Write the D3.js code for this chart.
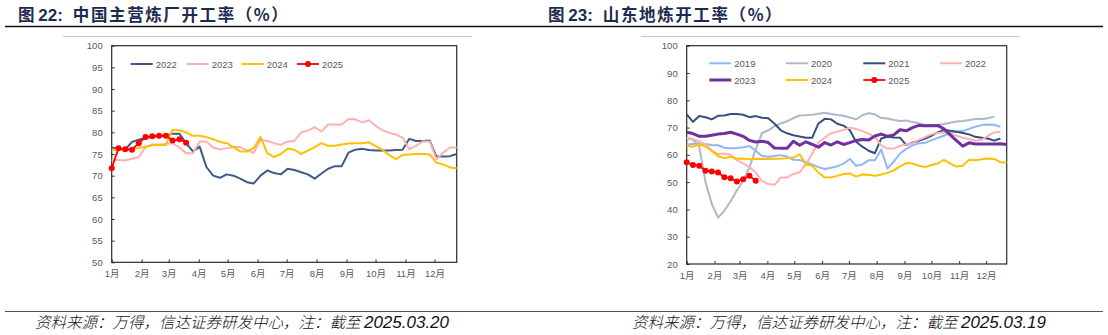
<!DOCTYPE html>
<html><head><meta charset="utf-8">
<script src="https://cdn.jsdelivr.net/npm/d3@7"></script>
<style>html,body{margin:0;padding:0;background:#fff;} svg{display:block;}</style>
</head><body><svg id="c" width="1108" height="335"></svg>
<script>
// ---------- data ----------
const months = ["1月","2月","3月","4月","5月","6月","7月","8月","9月","10月","11月","12月"];
const monthStartDays = [0,31,59,90,120,151,181,212,243,273,304,334];
const weekStep = 7; // weekly readings, days apart

// Figure 22: 中国主营炼厂开工率
const leftTicks = [50,55,60,65,70,75,80,85,90,95,100];
const leftYears = ["2022","2023","2024","2025"];
const left2022 = [76.5,76.2,76.0,77.8,78.3,78.7,79.0,79.2,79.3,79.7,79.7,77.5,75.6,76.7,72.0,70.0,69.5,70.3,70.0,69.3,68.5,68.2,70.0,71.2,70.6,70.3,71.6,71.3,70.8,70.3,69.3,70.5,71.6,72.2,72.2,75.3,76.0,76.2,75.9,75.8,75.8,75.8,75.9,76.0,78.5,78.0,78.0,78.1,74.4,74.4,74.5,75.0];
const left2023 = [73.6,73.6,73.5,73.9,74.3,76.6,77.2,77.2,77.3,77.5,76.5,75.2,75.2,77.9,77.9,76.5,76.1,76.3,76.6,76.6,75.8,75.3,78.3,78.0,77.5,77.1,77.9,78.0,80.0,80.4,81.2,80.2,81.8,81.8,81.8,83.1,83.0,82.3,82.8,81.5,80.5,79.9,79.5,78.8,76.1,76.9,77.9,77.9,73.8,75.3,76.5,76.5];
const left2024 = [76.0,76.0,76.1,76.2,76.4,76.7,77.0,77.1,77.1,80.6,80.5,80.0,79.2,79.2,78.9,78.4,77.8,77.5,76.6,75.6,75.6,76.4,78.9,75.2,74.3,75.0,76.2,76.0,75.0,75.8,76.6,77.5,76.9,76.9,77.2,77.4,77.5,77.5,77.7,76.9,76.0,74.8,73.8,74.8,74.9,75.0,75.0,74.9,73.0,72.6,71.9,71.7];
const left2025 = [71.7,76.3,76.1,76.0,77.5,78.9,79.1,79.2,79.2,78.1,78.4,77.6];

// Figure 23: 山东地炼开工率
const rightTicks = [20,30,40,50,60,70,80,90,100];
const rightYears = ["2019","2020","2021","2022","2023","2024","2025"];
const right2019 = [63.8,64.0,64.2,64.0,63.6,63.5,62.6,62.4,62.5,62.8,63.2,61.5,59.6,59.3,59.6,59.9,59.3,58.2,58.1,57.3,56.5,55.5,54.8,55.3,55.8,56.8,58.5,56.0,56.5,58.0,58.0,62.0,55.0,57.5,60.5,62.2,63.5,64.2,64.4,65.3,66.2,67.0,68.0,68.6,68.7,69.5,70.3,70.9,71.1,71.0,70.3];
const right2020 = [66.0,65.5,63.0,50.0,42.0,37.0,39.5,43.0,47.0,50.5,55.5,62.0,68.0,69.0,70.5,71.5,72.3,73.5,74.4,74.5,74.7,75.1,75.4,75.0,74.6,74.3,73.7,73.0,74.5,75.3,74.8,73.5,73.3,72.8,72.4,72.6,72.0,71.6,70.9,70.9,71.0,71.3,71.8,72.2,72.4,72.8,73.1,73.1,73.4,74.0];
const right2021 = [74.8,72.1,74.2,73.8,73.0,74.3,74.4,75.0,75.0,74.7,73.8,74.2,73.6,73.4,71.4,69.0,67.9,67.2,66.7,66.3,66.3,71.5,73.2,73.0,71.4,70.7,69.0,64.8,63.0,61.5,60.6,66.0,66.6,66.4,66.3,63.6,64.5,65.1,66.0,67.0,68.2,69.1,68.8,68.5,68.0,67.5,66.6,66.3,66.0,65.2,66.0];
const right2022 = [66.3,65.8,64.8,63.8,61.5,60.3,60.5,60.0,58.0,56.9,55.5,53.5,50.5,49.3,49.0,51.7,51.7,53.0,53.6,56.5,60.5,64.5,66.3,67.9,68.5,69.1,70.0,69.5,68.7,67.8,66.5,63.5,62.3,62.3,63.3,63.8,64.3,65.5,66.5,67.5,68.0,68.2,67.8,67.0,66.3,65.8,65.2,65.5,67.0,68.2,68.5];
const right2023 = [68.3,67.8,66.8,66.8,67.2,67.6,67.8,68.3,67.6,66.8,65.3,64.7,65.0,64.5,62.5,62.4,62.4,65.0,63.5,64.8,63.8,62.8,64.5,63.6,64.8,63.8,64.5,65.3,65.6,65.4,66.9,67.6,66.8,67.3,69.2,68.8,70.0,70.8,70.7,70.7,70.8,69.5,67.3,65.2,63.2,64.4,64.0,64.0,64.0,64.0,64.1,63.8];
const right2024 = [63.3,63.0,63.8,63.0,61.5,59.5,58.8,59.3,58.6,58.7,58.4,58.6,58.5,58.5,58.6,58.6,58.8,59.0,60.2,56.5,56.0,53.5,51.7,51.8,52.3,53.0,53.2,52.0,52.8,52.7,52.3,52.8,53.4,54.3,55.8,57.0,56.8,56.0,55.5,56.3,56.8,58.2,56.8,55.7,56.0,58.2,58.0,58.4,58.7,58.5,57.3,57.2];
const right2025 = [57.3,56.3,56.0,54.2,53.9,53.5,51.8,51.4,50.2,51.1,52.3,50.5];

const titleNums = ["图 22:", "图 23:"];
const titleTexts = ["中国主营炼厂开工率（%）", "山东地炼开工率（%）"];
const sources = ["资料来源：万得，信达证券研发中心，注：截至 ", "资料来源：万得，信达证券研发中心，注：截至 "];
const sourceDates = ["2025.03.20", "2025.03.19"];

// ---------- drawing ----------
const svg = d3.select("#c");
const FONT = "'Liberation Sans', Arial, 'Noto Sans CJK SC', sans-serif";
const CJK = "'Noto Sans CJK SC', sans-serif";

// title rule + footer rule
svg.append("line").attr("x1",5).attr("x2",1103).attr("y1",26.5).attr("y2",26.5).attr("stroke","#111").attr("stroke-width",1.5);
svg.append("line").attr("x1",5).attr("x2",1103).attr("y1",311.5).attr("y2",311.5).attr("stroke","#555").attr("stroke-width",1.2);

function drawPanel(cfg) {
  const g = svg.append("g");
  // title
  const t = g.append("text").attr("x", cfg.titleX).attr("y", 20.5).attr("font-size", 16.5)
    .attr("font-weight", "bold").attr("fill", "#1d2b4f");
  t.append("tspan").attr("font-family", FONT).attr("font-size", 17).text(cfg.titleNum.replace("图 ", ""))
    .attr("dx", 0);
  t.insert("tspan", "tspan").attr("font-family", CJK).text("图 ");
  t.append("tspan").attr("font-family", CJK).attr("dx", 10).attr("letter-spacing", 1.6).text(cfg.titleText);
  // source
  const src = g.append("text").attr("x", cfg.srcX).attr("y", 327.5).attr("font-size", 15.5).attr("font-style","italic").attr("fill","#111");
  src.append("tspan").attr("font-family", CJK).attr("font-weight", 300).text(cfg.source);
  src.append("tspan").attr("font-family", FONT).attr("font-size", 17).text(cfg.sourceDate);
  // thin gray frame top line
  g.append("line").attr("x1", cfg.grayX0).attr("x2", cfg.grayX1).attr("y1", 36.5).attr("y2", 36.5).attr("stroke", "#c8c8c8").attr("stroke-width", 1);

  const x = d3.scaleLinear().domain([0, 357]).range([cfg.x0, cfg.x1]);
  const y = d3.scaleLinear().domain(cfg.yDomain).range([cfg.yB, cfg.yT]);

  // y axis
  const ya = g.append("g").attr("transform", `translate(${cfg.x0},0)`)
    .call(d3.axisLeft(y).tickValues(cfg.ticks).tickSize(-3).tickPadding(9).tickFormat(d3.format("d")));
  ya.select(".domain").remove();
  ya.selectAll("line").attr("stroke", "#333");
  ya.selectAll("text").attr("font-family", FONT).attr("font-size", 9.5).attr("fill", "#595959");

  // x axis
  const xa = g.append("g").attr("transform", `translate(0,${cfg.yB})`)
    .call(d3.axisBottom(x).tickValues(monthStartDays).tickSize(-3).tickPadding(8).tickFormat((d,i)=>months[i]));
  xa.select(".domain").remove();
  xa.selectAll("line").attr("stroke", "#333");
  xa.selectAll("text").attr("font-family", FONT).attr("font-size", 9.5).attr("fill", "#595959");

  // frame
  g.append("rect").attr("x", cfg.x0).attr("y", cfg.yT).attr("width", cfg.x1 - cfg.x0).attr("height", cfg.yB - cfg.yT)
    .attr("fill", "none").attr("stroke", "#2b2b2b").attr("stroke-width", 1.2);

  const line = d3.line().x((d,i)=>x(i*weekStep)).y(d=>y(d)).curve(d3.curveLinear);
  cfg.series.forEach(s => {
    g.append("path").datum(s.values).attr("d", line).attr("fill","none")
      .attr("stroke", s.color).attr("stroke-width", s.width).attr("stroke-linejoin","round");
    if (s.marker) {
      g.selectAll(null).data(s.values).enter().append("circle")
        .attr("cx",(d,i)=>x(i*weekStep)).attr("cy",d=>y(d)).attr("r",3).attr("fill",s.color);
    }
  });

  // legend
  cfg.series.forEach((s, i) => {
    const p = cfg.legendPos[i];
    g.append("line").attr("x1", p[0]).attr("x2", p[0] + 22).attr("y1", p[1]).attr("y2", p[1])
      .attr("stroke", s.color).attr("stroke-width", s.width);
    if (s.marker) g.append("circle").attr("cx", p[0] + 11).attr("cy", p[1]).attr("r", 3).attr("fill", s.color);
    g.append("text").attr("x", p[0] + 25).attr("y", p[1] + 3.5).attr("font-family", FONT).attr("font-size", 9.5)
      .attr("fill", "#595959").text(s.name);
  });
}

drawPanel({
  titleNum: titleNums[0], titleText: titleTexts[0], titleX: 18, source: sources[0], sourceDate: sourceDates[0], srcX: 35,
  grayX0: 63, grayX1: 472,
  x0: 111.7, x1: 456.7, yT: 45.7, yB: 262.3, yDomain: [50, 100], ticks: leftTicks,
  series: [
    {name: leftYears[0], values: left2022, color: "#3d5a8a", width: 2},
    {name: leftYears[1], values: left2023, color: "#ffb0b0", width: 2},
    {name: leftYears[2], values: left2024, color: "#ffc000", width: 2},
    {name: leftYears[3], values: left2025, color: "#ff0000", width: 1.8, marker: true}
  ],
  legendPos: [[130.7,64],[186.7,64],[241.7,64],[297,64]]
});

drawPanel({
  titleNum: titleNums[1], titleText: titleTexts[1], titleX: 548, source: sources[1], sourceDate: sourceDates[1], srcX: 632,
  grayX0: 641, grayX1: 1020,
  x0: 686.7, x1: 1006.7, yT: 45.7, yB: 264, yDomain: [20, 100], ticks: rightTicks,
  series: [
    {name: rightYears[0], values: right2019, color: "#8fb8fa", width: 2},
    {name: rightYears[1], values: right2020, color: "#adb9ca", width: 2},
    {name: rightYears[2], values: right2021, color: "#34507e", width: 2},
    {name: rightYears[3], values: right2022, color: "#ffb0b0", width: 2},
    {name: rightYears[4], values: right2023, color: "#7030a0", width: 3},
    {name: rightYears[5], values: right2024, color: "#ffc000", width: 2},
    {name: rightYears[6], values: right2025, color: "#ff0000", width: 1.8, marker: true}
  ],
  legendPos: [[709.3,63.3],[786,63.3],[863.3,63.3],[940,63.3],[709.3,80],[786,80],[863.3,80]]
});
</script></body></html>
